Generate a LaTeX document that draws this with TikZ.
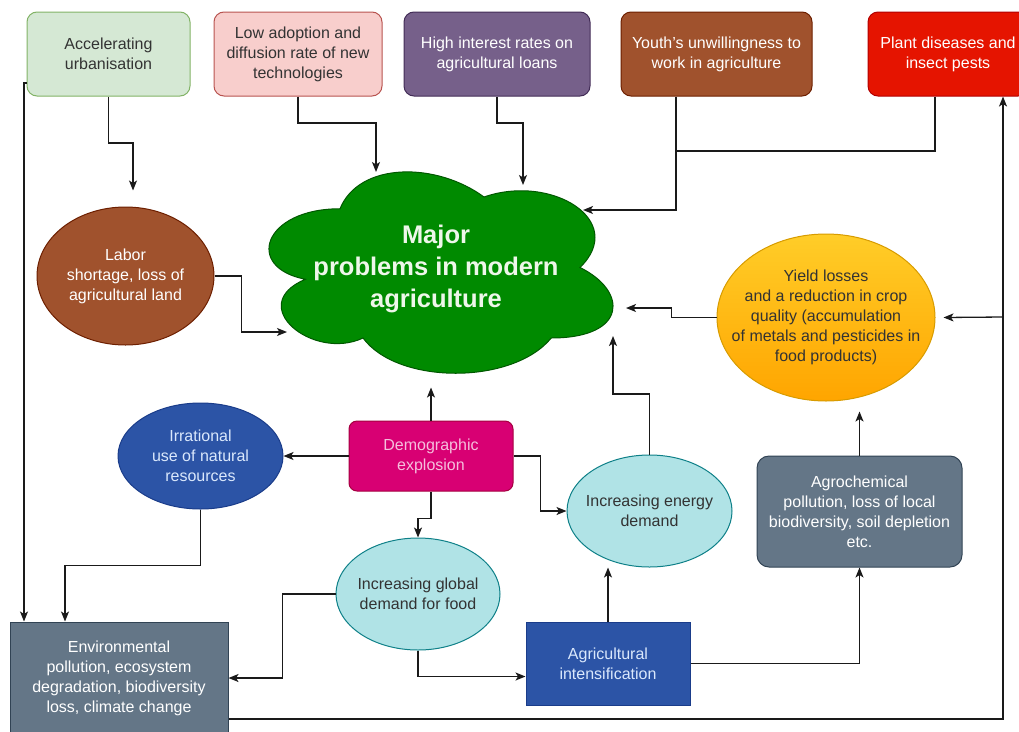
\documentclass[tikz,border=0pt]{standalone}
\usepackage{fontspec}
\setmainfont{Liberation Sans}
\usetikzlibrary{shapes.geometric,arrows.meta,calc}
\definecolor{accF}{HTML}{D5E8D4}\definecolor{accD}{HTML}{82B366}
\definecolor{lowF}{HTML}{F8CECC}\definecolor{lowD}{HTML}{B85450}
\definecolor{highF}{HTML}{76608A}\definecolor{highD}{HTML}{432D57}
\definecolor{youthF}{HTML}{A0522D}\definecolor{youthD}{HTML}{6D1F00}
\definecolor{plantF}{HTML}{E51400}\definecolor{plantD}{HTML}{B20000}
\definecolor{cloudF}{HTML}{008A00}\definecolor{cloudD}{HTML}{005700}\definecolor{cloudT}{HTML}{EEF7EA}
\definecolor{yieldT}{HTML}{FFCD28}\definecolor{yieldB}{HTML}{FFA500}\definecolor{yieldD}{HTML}{D79B00}
\definecolor{blueF}{HTML}{2C54A6}\definecolor{blueD}{HTML}{1A3C8A}\definecolor{blueT}{HTML}{DAE8FC}
\definecolor{demoF}{HTML}{D80073}\definecolor{demoD}{HTML}{A50040}\definecolor{demoT}{HTML}{F5BFDC}
\definecolor{tealF}{HTML}{B0E3E6}\definecolor{tealD}{HTML}{0E8088}
\definecolor{grayF}{HTML}{647687}\definecolor{grayD}{HTML}{314354}
\definecolor{dtext}{HTML}{333333}\definecolor{lineC}{HTML}{1A1A1A}
\begin{document}
\begin{tikzpicture}[x=1pt,y=-1pt,
  base/.style={font=\fontsize{16}{20}\selectfont, align=center, inner sep=2pt, line width=1pt},
  rbox/.style={base, rectangle, rounded corners=10pt, minimum width=#1, minimum height=84pt},
  sbox/.style={base, rectangle, minimum width=#1},
  ell/.style={ellipse, line width=1pt, inner sep=0pt, minimum width=#1},
  arr/.style={line width=1.3pt, draw=lineC, -{Stealth[length=10pt,width=8pt,inset=2.5pt]}},
  ln/.style={line width=1.3pt, draw=lineC}]
\useasboundingbox (0,0) rectangle (1019,731);
% top row
\node[rbox=163pt, fill=accF, draw=accD, text=dtext] (acc) at (108.5,54) {Accelerating\\urbanisation};
\node[rbox=168pt, fill=lowF, draw=lowD, text=dtext] (low) at (298,54) {Low adoption and\\diffusion rate of new\\technologies};
\node[rbox=186pt, fill=highF, draw=highD, text=white] (high) at (497,54) {High interest rates on\\agricultural loans};
\node[rbox=191pt, fill=youthF, draw=youthD, text=white] (youth) at (716.5,54) {Youth's unwillingness to\\work in agriculture};
\node[rbox=160pt, fill=plantF, draw=plantD, text=white] (plant) at (948,54) {Plant diseases and\\insect pests};
% cloud
\node[minimum width=384pt, minimum height=235pt, inner sep=0pt, outer sep=0pt] (cloud) at (436,267.5) {};
\begin{scope}[shift={(cloud.north west)}, x=384pt, y=-235pt]
\draw[fill=cloudF, draw=cloudD, line width=1pt] (0.25,0.25) .. controls (0.05,0.25) and (0,0.5) .. (0.16,0.55)
  .. controls (0,0.66) and (0.18,0.9) .. (0.31,0.8)
  .. controls (0.4,1) and (0.7,1) .. (0.8,0.8)
  .. controls (1,0.8) and (1,0.6) .. (0.875,0.5)
  .. controls (1,0.3) and (0.8,0.1) .. (0.625,0.2)
  .. controls (0.5,0.05) and (0.3,0.05) .. (0.25,0.25) -- cycle;
\end{scope}
\node[font=\fontsize{25.5}{32}\selectfont\bfseries, text=cloudT, align=center] (cloudtxt) at (436,269) {Major\\problems in modern\\agriculture};
% ellipses
\node[ell=177pt, minimum height=138pt, fill=youthF, draw=youthD] (labor) at (125.5,276) {};
\node[base, text=white] (labortxt) at (labor) {Labor\\shortage, loss of\\agricultural land};
\node[ell=218pt, minimum height=167pt, top color=yieldT, bottom color=yieldB, draw=yieldD] (yield) at (826,317.5) {};
\node[base, text=dtext] (yieldtxt) at (yield) {Yield losses\\and a reduction in crop\\quality (accumulation\\of metals and pesticides in\\food products)};
\node[ell=165pt, minimum height=106pt, fill=blueF, draw=blueD] (irr) at (200.5,456) {};
\node[base, text=blueT] (irrtxt) at (irr) {Irrational\\use of natural\\resources};
\node[ell=164pt, minimum height=112pt, fill=tealF, draw=tealD] (global) at (418,594) {};
\node[base, text=dtext] (globaltxt) at (global) {Increasing global\\demand for food};
\node[ell=165pt, minimum height=112pt, fill=tealF, draw=tealD] (energy) at (649.5,511) {};
\node[base, text=dtext] (energytxt) at (energy) {Increasing energy\\demand};
% boxes
\node[base, rectangle, rounded corners=8pt, minimum width=164pt, minimum height=70pt, fill=demoF, draw=demoD, text=demoT] (demo) at (431,456) {Demographic\\explosion};
\node[base, rectangle, rounded corners=12pt, minimum width=205pt, minimum height=111pt, fill=grayF, draw=grayD, text=white] (agro) at (859.5,511.5) {Agrochemical\\pollution, loss of local\\biodiversity, soil depletion\\etc.};
\node[sbox=164pt, minimum height=83pt, fill=blueF, draw=blueD, text=blueT] (agri) at (608,663.5) {Agricultural\\intensification};
\node[sbox=218pt, minimum height=112pt, fill=grayF, draw=grayD, text=white] (env) at (119,678) {Environmental\\pollution, ecosystem\\degradation, biodiversity\\loss, climate change};
% connectors
\coordinate (j1) at (676,151);
\coordinate (j2) at (1003,317);
\draw[arr, shorten >=16pt] (acc.south) |- (133,143) -- ([xshift=7.5pt]labor.north);
\draw[arr] (low.south) |- (376,123) -- ($(cloud.north west)+(132,22)$);
\draw[arr] (high.south) |- (523,123) -- ($(cloud.north west)+(279,35)$);
\draw[arr] ([xshift=-40.5pt]youth.south) |- ($(cloud.north west)+(339,60)$);
\draw[ln] ([xshift=-13pt]plant.south) |- (j1);
\draw[arr] (labor.east) -- ++(27,0) |- ($(cloud.north west)+(43,182)$);
\draw[arr] ([yshift=-41pt]env.east) -| ([xshift=55pt]plant.south);
\draw[arr] (j2) -- ([xshift=8pt]yield.east);
\draw[arr] (yield.west) -- ++(-45,0) |- ($(cloud.north west)+(382,158)$);
\draw[arr] (energy.north) |- (613,394) -- ($(cloud.north west)+(369,186)$);
\draw[arr] (agro.north) -- ($(agro.north)+(0,-44)$);
\draw[arr] (demo.north) -- ($(demo.north)+(0,-33)$);
\draw[arr] (demo.west) -- (irr.east);
\draw[arr] (demo.east) -- ++(27,0) |- (energy.west);
\draw[arr] (demo.south) -- ++(0,27) -| (global.north);
\draw[arr] (global.west) -- ++(-53,0) |- (env.east);
\draw[arr] (global.south) |- ([yshift=-13pt]agri.west);
\draw[arr] (agri.north) -- ++(0,-54);
\draw[arr] (agri.east) -| (agro.south);
\draw[arr] (irr.south) -- ++(0,56) -| ([xshift=-54pt]env.north);
\draw[arr] ([yshift=-29pt]acc.west) -| ([xshift=-95pt]env.north);
\end{tikzpicture}
\end{document}
